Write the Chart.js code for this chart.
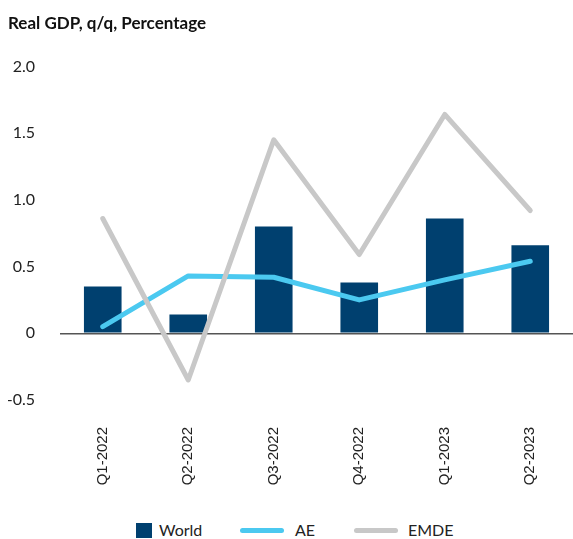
<!DOCTYPE html>
<html>
<head>
<meta charset="utf-8">
<script src="https://cdn.jsdelivr.net/npm/chart.js@4"></script>
<style>
  body { margin: 0; background: #fff; }
  #wrap { position: relative; width: 573px; height: 539px; }
  #legend { position: absolute; left: 0; top: 520px; width: 573px; height: 20px;
    font: 16px Lato, sans-serif; color: #222; }
  .item { position: absolute; top: 0; line-height: 20px; }
  .sw { position: absolute; }
</style>
</head>
<body>
<div id="wrap">
  <canvas id="gdpChart" width="573" height="510"></canvas>
  <div id="legend">
    <span class="sw" style="left:136px;top:3px;width:16px;height:15px;background:#00406F"></span>
    <span class="item" style="left:159px">World</span>
    <span class="sw" style="left:240px;top:8px;width:44px;height:5px;border-radius:3px;background:#4BC9F0"></span>
    <span class="item" style="left:295px">AE</span>
    <span class="sw" style="left:354px;top:8px;width:44px;height:5px;border-radius:3px;background:#C8C8C8"></span>
    <span class="item" style="left:408px">EMDE</span>
  </div>
</div>
<script>
var quarters = ['Q1-2022', 'Q2-2022', 'Q3-2022', 'Q4-2022', 'Q1-2023', 'Q2-2023'];
var world = [0.35, 0.14, 0.80, 0.38, 0.86, 0.66];
var ae = [0.05, 0.43, 0.42, 0.25, 0.40, 0.54];
var emde = [0.86, -0.35, 1.45, 0.59, 1.64, 0.92];
var yTicks = [-0.5, 0, 0.5, 1.0, 1.5, 2.0];
var yTickLabels = ['-0.5', '0', '0.5', '1.0', '1.5', '2.0'];

var ctx = document.getElementById('gdpChart').getContext('2d');

var gdpChart = new Chart(ctx, {
    type: 'bar',
    data: {
        labels: quarters,
        datasets: [{
            label: 'World',
            data: world,
            backgroundColor: '#00406F',
            barPercentage: 0.44,
            categoryPercentage: 1,
            order: 2
        }, {
            type: 'line',
            label: 'AE',
            data: ae,
            borderColor: '#4BC9F0',
            borderWidth: 5,
            borderCapStyle: 'round',
            borderJoinStyle: 'round',
            pointRadius: 0,
            tension: 0,
            order: 1
        }, {
            type: 'line',
            label: 'EMDE',
            data: emde,
            borderColor: '#C8C8C8',
            borderWidth: 5,
            borderCapStyle: 'round',
            borderJoinStyle: 'round',
            pointRadius: 0,
            tension: 0,
            order: 0
        }]
    },
    options: {
        responsive: false,
        animation: false,
        layout: { padding: { left: 8, right: 0, top: 0, bottom: 0 } },
        plugins: {
            legend: { display: false },
            tooltip: { enabled: false },
            title: {
                display: true,
                text: 'Real GDP, q/q, Percentage',
                align: 'start',
                color: '#111',
                font: { family: 'Lato', size: 17, weight: 'bold' },
                padding: { top: 13, bottom: 33 }
            }
        },
        scales: {
            x: {
                grid: { display: false },
                border: { display: false },
                ticks: {
                    minRotation: 90,
                    maxRotation: 90,
                    padding: 19,
                    color: '#222',
                    font: { family: 'Liberation Sans', size: 15 }
                },
                afterFit: function (scale) { scale.height = 110; }
            },
            y: {
                min: -0.5,
                max: 2.0,
                border: { display: false },
                grid: {
                    drawTicks: false,
                    color: function (c) { return c.tick && c.tick.value === 0 ? '#555' : 'rgba(0,0,0,0)'; },
                    lineWidth: 1.5
                },
                afterBuildTicks: function (scale) {
                    scale.ticks = yTicks.map(function (v) { return { value: v }; });
                },
                ticks: {
                    padding: 25,
                    color: '#222',
                    font: { family: 'Lato', size: 16 },
                    callback: function (v) { return yTickLabels[yTicks.indexOf(v)]; }
                },
                afterFit: function (scale) { scale.width = 52; }
            }
        }
    }
});
</script>
</body>
</html>
